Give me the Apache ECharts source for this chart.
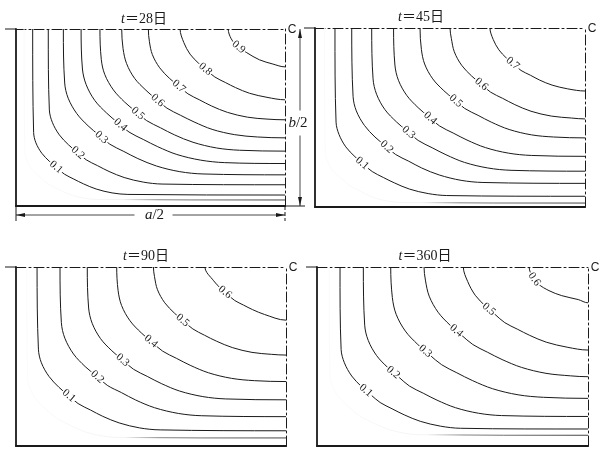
<!DOCTYPE html>
<html>
<head>
<meta charset="utf-8">
<script src="https://cdn.jsdelivr.net/npm/echarts@6/dist/echarts.min.js"></script>
<style>
  html, body { margin: 0; padding: 0; background: #fff; }
  #c { width: 600px; height: 452px; }
</style>
</head>
<body>
<div id="c"></div>
<script>
// Age of the section for each panel (days)
const days = [28, 45, 90, 360];

// Contour levels drawn in each panel
const levels28 = [0.1, 0.2, 0.3, 0.4, 0.5, 0.6, 0.7, 0.8, 0.9];
const levels45 = [0.1, 0.2, 0.3, 0.4, 0.5, 0.6, 0.7];
const levels90 = [0.1, 0.2, 0.3, 0.4, 0.5, 0.6];
const levels360 = [0.1, 0.2, 0.3, 0.4, 0.5, 0.6];

// Contour lines of the quarter section, x = distance from the side face / (a/2),
// y = distance from the bottom face / (b/2); each line runs from the upper
// centre line down to the right centre line.
const iso28 = [
  [[0.062,1],[0.0655,0.416],[0.074,0.357],[0.096,0.298],[0.125,0.251],[0.152,0.215],[0.18,0.18],[0.215,0.152],[0.251,0.125],[0.298,0.096],[0.357,0.074],[0.416,0.0655],[1,0.062]],
  [[0.12,1],[0.124,0.543],[0.135,0.473],[0.161,0.402],[0.195,0.346],[0.228,0.303],[0.261,0.261],[0.303,0.228],[0.346,0.195],[0.402,0.161],[0.473,0.135],[0.543,0.124],[1,0.12]],
  [[0.176,1],[0.181,0.695],[0.194,0.609],[0.226,0.522],[0.268,0.453],[0.308,0.401],[0.349,0.349],[0.401,0.308],[0.453,0.268],[0.522,0.226],[0.609,0.194],[0.695,0.181],[1,0.176]],
  [[0.242,1],[0.247,0.774],[0.261,0.685],[0.293,0.596],[0.337,0.525],[0.378,0.471],[0.42,0.418],[0.473,0.376],[0.527,0.335],[0.598,0.291],[0.687,0.259],[0.776,0.245],[1,0.24]],
  [[0.312,1],[0.317,0.829],[0.33,0.743],[0.362,0.656],[0.404,0.587],[0.444,0.535],[0.485,0.483],[0.537,0.442],[0.589,0.402],[0.658,0.36],[0.745,0.328],[0.831,0.315],[1,0.31]],
  [[0.393,1],[0.398,0.889],[0.411,0.805],[0.441,0.721],[0.483,0.654],[0.521,0.603],[0.561,0.553],[0.611,0.513],[0.662,0.475],[0.729,0.433],[0.813,0.403],[0.897,0.39],[1,0.385]],
  [[0.492,1],[0.496,0.928],[0.507,0.855],[0.534,0.781],[0.57,0.722],[0.604,0.678],[0.639,0.634],[0.683,0.599],[0.727,0.565],[0.786,0.529],[0.86,0.502],[0.933,0.491],[1,0.487]],
  [[0.61,1],[0.624,0.923],[0.647,0.858],[0.679,0.806],[0.708,0.768],[0.739,0.729],[0.778,0.698],[0.816,0.669],[0.868,0.637],[0.933,0.614],[1,0.6]],
  [[0.789,1],[0.8,0.945],[0.824,0.902],[0.858,0.866],[0.905,0.826],[0.955,0.802],[1,0.786]]
];
const iso45 = [
  [[0.074,1],[0.078,0.474],[0.089,0.405],[0.114,0.336],[0.148,0.281],[0.179,0.239],[0.212,0.198],[0.253,0.165],[0.295,0.134],[0.35,0.1],[0.419,0.075],[0.488,0.064],[1,0.06]],
  [[0.136,1],[0.141,0.618],[0.153,0.537],[0.183,0.456],[0.222,0.391],[0.26,0.343],[0.298,0.294],[0.347,0.256],[0.395,0.218],[0.46,0.179],[0.541,0.149],[0.622,0.137],[1,0.132]],
  [[0.21,1],[0.215,0.716],[0.228,0.63],[0.259,0.544],[0.302,0.475],[0.341,0.424],[0.382,0.372],[0.434,0.331],[0.485,0.292],[0.554,0.249],[0.64,0.218],[0.726,0.205],[1,0.2]],
  [[0.291,1],[0.296,0.793],[0.309,0.708],[0.34,0.623],[0.382,0.555],[0.421,0.504],[0.461,0.453],[0.512,0.413],[0.563,0.374],[0.631,0.332],[0.716,0.301],[0.801,0.288],[1,0.283]],
  [[0.389,1],[0.394,0.881],[0.406,0.799],[0.436,0.716],[0.477,0.65],[0.515,0.601],[0.554,0.551],[0.604,0.512],[0.653,0.474],[0.719,0.433],[0.802,0.403],[0.884,0.391],[1,0.386]],
  [[0.5,1],[0.505,0.942],[0.516,0.867],[0.543,0.792],[0.58,0.732],[0.615,0.687],[0.65,0.642],[0.695,0.607],[0.74,0.572],[0.8,0.535],[0.875,0.508],[0.95,0.497],[1,0.492]],
  [[0.648,1],[0.66,0.936],[0.681,0.878],[0.709,0.832],[0.736,0.798],[0.763,0.763],[0.798,0.736],[0.832,0.709],[0.878,0.681],[0.936,0.66],[1,0.648]]
];
const iso90 = [
  [[0.078,1],[0.083,0.541],[0.094,0.465],[0.122,0.389],[0.159,0.328],[0.194,0.283],[0.23,0.237],[0.276,0.201],[0.321,0.166],[0.382,0.129],[0.458,0.101],[0.534,0.09],[1,0.085]],
  [[0.163,1],[0.168,0.689],[0.181,0.602],[0.213,0.514],[0.256,0.444],[0.297,0.392],[0.338,0.339],[0.391,0.298],[0.443,0.257],[0.513,0.214],[0.601,0.182],[0.688,0.169],[1,0.164]],
  [[0.264,1],[0.269,0.771],[0.282,0.686],[0.313,0.6],[0.355,0.532],[0.395,0.48],[0.435,0.429],[0.486,0.389],[0.538,0.349],[0.606,0.307],[0.692,0.276],[0.777,0.263],[1,0.258]],
  [[0.373,1],[0.378,0.87],[0.391,0.785],[0.422,0.7],[0.464,0.632],[0.503,0.581],[0.543,0.53],[0.594,0.49],[0.645,0.451],[0.713,0.409],[0.798,0.378],[0.883,0.365],[1,0.36]],
  [[0.509,1],[0.513,0.946],[0.524,0.873],[0.551,0.8],[0.587,0.742],[0.62,0.698],[0.655,0.654],[0.698,0.619],[0.742,0.586],[0.801,0.55],[0.874,0.523],[0.947,0.512],[1,0.508]],
  [[0.7,1],[0.732,0.923],[0.759,0.879],[0.784,0.846],[0.81,0.813],[0.843,0.787],[0.876,0.762],[0.92,0.735],[1,0.703]]
];
const iso360 = [
  [[0.085,1],[0.089,0.539],[0.101,0.465],[0.128,0.391],[0.164,0.332],[0.198,0.287],[0.233,0.243],[0.277,0.208],[0.322,0.174],[0.381,0.138],[0.455,0.111],[0.529,0.099],[1,0.095]],
  [[0.171,1],[0.176,0.675],[0.189,0.59],[0.22,0.505],[0.262,0.437],[0.301,0.386],[0.341,0.335],[0.392,0.295],[0.443,0.256],[0.511,0.214],[0.596,0.183],[0.681,0.17],[1,0.165]],
  [[0.272,1],[0.278,0.83],[0.292,0.736],[0.326,0.642],[0.372,0.567],[0.415,0.51],[0.46,0.454],[0.516,0.409],[0.573,0.366],[0.648,0.32],[0.742,0.286],[0.836,0.272],[1,0.266]],
  [[0.395,1],[0.4,0.927],[0.414,0.837],[0.447,0.747],[0.491,0.675],[0.532,0.621],[0.575,0.567],[0.629,0.524],[0.683,0.483],[0.755,0.439],[0.845,0.406],[0.935,0.392],[1,0.387]],
  [[0.54,1],[0.556,0.919],[0.584,0.842],[0.622,0.781],[0.657,0.735],[0.693,0.689],[0.739,0.653],[0.785,0.618],[0.846,0.58],[0.923,0.552],[1,0.536]],
  [[0.783,1],[0.792,0.955],[0.817,0.905],[0.856,0.868],[0.903,0.84],[0.964,0.818],[1,0.8]]
];

// Unlabelled line lying closest to the faces (printed faintly near the side face)
const outer28 = [[0.03,1],[0.033,0.304],[0.04,0.259],[0.056,0.214],[0.078,0.178],[0.099,0.151],[0.12,0.124],[0.147,0.103],[0.174,0.082],[0.21,0.06],[0.255,0.044],[0.3,0.037],[1,0.034]];
const outer45 = [[0.035,1],[0.038,0.307],[0.045,0.26],[0.062,0.212],[0.086,0.174],[0.108,0.146],[0.13,0.117],[0.159,0.095],[0.187,0.073],[0.225,0.049],[0.273,0.032],[0.32,0.025],[1,0.022]];
const outer90 = [[0.04,1],[0.043,0.375],[0.052,0.32],[0.072,0.265],[0.099,0.221],[0.124,0.188],[0.15,0.155],[0.183,0.129],[0.216,0.104],[0.26,0.077],[0.315,0.057],[0.37,0.048],[1,0.045]];
const outer360 = [[0.045,1],[0.048,0.39],[0.057,0.335],[0.077,0.28],[0.104,0.236],[0.129,0.203],[0.155,0.17],[0.188,0.144],[0.221,0.119],[0.265,0.092],[0.32,0.072],[0.375,0.063],[1,0.06]];

// Page layout of the four quarter sections (pixels) and how far up the
// knee of each line its level label sits (section units)
const panels = [
  { left: 16,  top: 29,  width: 269, height: 177, titleX: 144, titleY: 19,  labelShift: 0.07 },
  { left: 315, top: 28,  width: 270, height: 179, titleX: 421, titleY: 17,  labelShift: 0.07 },
  { left: 16,  top: 267, width: 270, height: 179, titleX: 146, titleY: 256, labelShift: 0.085 },
  { left: 317, top: 267, width: 271, height: 179, titleX: 425, titleY: 256, labelShift: 0.13 }
];
const panelSets = [
  { levels: levels28, lines: iso28, outer: outer28 },
  { levels: levels45, lines: iso45, outer: outer45 },
  { levels: levels90, lines: iso90, outer: outer90 },
  { levels: levels360, lines: iso360, outer: outer360 }
];

const ink = '#1a1a1a';
const dashDot = [10, 3, 2, 3];
const serif = "'Liberation Serif', 'DejaVu Serif', 'Noto Sans CJK JP', serif";

// Cubic pieces through screen points; each line leaves the upper centre
// line straight down and meets the right centre line horizontally.
function bezierPieces(P) {
  const n = P.length, tan = [];
  for (let i = 0; i < n; i++) {
    if (i === 0) { tan.push([0, 1]); continue; }
    if (i === n - 1) { tan.push([1, 0]); continue; }
    const a = P[i - 1], b = P[i + 1];
    const dx = b[0] - a[0], dy = b[1] - a[1], l = Math.hypot(dx, dy) || 1;
    tan.push([dx / l, dy / l]);
  }
  const out = [];
  for (let i = 0; i < n - 1; i++) {
    const p0 = P[i], p1 = P[i + 1];
    const L = Math.hypot(p1[0] - p0[0], p1[1] - p0[1]) / 3;
    out.push([p0,
      [p0[0] + tan[i][0] * L, p0[1] + tan[i][1] * L],
      [p1[0] - tan[i + 1][0] * L, p1[1] - tan[i + 1][1] * L],
      p1]);
  }
  return out;
}
function bezAt(s, t) {
  const u = 1 - t;
  const a = u * u * u, b = 3 * u * u * t, c = 3 * u * t * t, d = t * t * t;
  return [a * s[0][0] + b * s[1][0] + c * s[2][0] + d * s[3][0],
          a * s[0][1] + b * s[1][1] + c * s[2][1] + d * s[3][1]];
}
function pathOf(segs) {
  let d = 'M' + segs[0][0][0] + ' ' + segs[0][0][1];
  segs.forEach(s => { d += ' C' + s[1].join(' ') + ' ' + s[2].join(' ') + ' ' + s[3].join(' '); });
  return d;
}

const grids = [], xAxes = [], yAxes = [], series = [];
panelSets.forEach((set, i) => {
  const g = panels[i];
  grids.push({ left: g.left, top: g.top, width: g.width, height: g.height });
  const base = {
    gridIndex: i, type: 'value', min: 0, max: 1,
    axisTick: { show: false }, axisLabel: { show: false }, splitLine: { show: false }
  };
  xAxes.push(Object.assign({}, base, { position: 'bottom',
    axisLine: { show: true, onZero: false, lineStyle: { color: ink, width: 2.2 } } }));
  xAxes.push(Object.assign({}, base, { position: 'top',
    axisLine: { show: true, onZero: false, lineStyle: { color: ink, width: 1, type: dashDot } } }));
  yAxes.push(Object.assign({}, base, { position: 'left',
    axisLine: { show: true, onZero: false, lineStyle: { color: ink, width: 1.8 } } }));
  yAxes.push(Object.assign({}, base, { position: 'right',
    axisLine: { show: true, onZero: false, lineStyle: { color: ink, width: 1, type: dashDot } } }));

  // faint line next to the faces, only clearly printed along the bottom
  series.push({
    type: 'custom', coordinateSystem: 'cartesian2d',
    xAxisIndex: 2 * i, yAxisIndex: 2 * i, silent: true, z: 2,
    data: [[set.outer[0][0], set.outer[0][1]]],
    renderItem: (params, api) => {
      const P = set.outer.map(p => api.coord(p));
      return { type: 'path', shape: { pathData: pathOf(bezierPieces(P)) },
        style: { fill: null, lineWidth: 0.9,
          stroke: new echarts.graphic.LinearGradient(0, 0, 1, 0, [
            { offset: 0, color: '#fafafa' }, { offset: 0.38, color: '#f2f2f2' },
            { offset: 0.52, color: '#777' }, { offset: 1, color: '#2a2a2a' }]) } };
    }
  });

  series.push({
    type: 'custom', coordinateSystem: 'cartesian2d',
    xAxisIndex: 2 * i, yAxisIndex: 2 * i, silent: true, z: 3,
    data: set.lines.map((pts, j) => [pts[0][0], pts[0][1], j]),
    renderItem: (params, api) => {
      const j = api.value(2);
      const P = set.lines[j].map(p => api.coord(p));
      const segs = bezierPieces(P);

      // label where the line crosses (y - x) = shift, in section units
      const o = api.coord([0, 0]), e = api.coord([1, 1]);
      const W = e[0] - o[0], H = o[1] - e[1];
      const f = q => (o[1] - q[1]) / H - (q[0] - o[0]) / W - g.labelShift;
      let lab = null;
      for (const s of segs) {
        let prev = bezAt(s, 0);
        for (let k = 1; k <= 40 && !lab; k++) {
          const cur = bezAt(s, k / 40);
          if (f(prev) >= 0 && f(cur) < 0) {
            const w = f(prev) / (f(prev) - f(cur));
            lab = { x: prev[0] + w * (cur[0] - prev[0]), y: prev[1] + w * (cur[1] - prev[1]),
                    ang: Math.atan2(cur[1] - prev[1], cur[0] - prev[0]) };
          }
          prev = cur;
        }
        if (lab) break;
      }
      const children = [{ type: 'path', shape: { pathData: pathOf(segs) },
        style: { stroke: ink, lineWidth: 1, fill: null } }];
      if (lab) {
        children.push({ type: 'text', x: lab.x, y: lab.y, rotation: -lab.ang, z2: 10,
          style: { text: set.levels[j].toFixed(1), font: '11px ' + serif, fill: ink,
                   align: 'center', verticalAlign: 'middle', backgroundColor: '#fff', padding: [0, 1] } });
      }
      return { type: 'group', children };
    }
  });
});

// Titles, centre marks and dimension lines
const graphic = [];
function line(x1, y1, x2, y2, w, dash) {
  graphic.push({ type: 'line', silent: true, shape: { x1, y1, x2, y2 },
    style: { stroke: ink, lineWidth: w || 1, lineDash: dash || null } });
}
function arrow(x, y, dx, dy) {
  const L = 9, h = 2, px = -dy, py = dx;
  graphic.push({ type: 'polygon', silent: true,
    shape: { points: [[x, y], [x - dx * L + px * h, y - dy * L + py * h], [x - dx * L - px * h, y - dy * L - py * h]] },
    style: { fill: ink } });
}
function text(x, y, str, extra) {
  graphic.push({ type: 'text', silent: true, x, y,
    style: Object.assign({ text: str, align: 'center', verticalAlign: 'middle', fill: ink,
      font: '13px ' + serif }, extra || {}) });
}

const titleRich = {
  i: { fontFamily: serif, fontStyle: 'italic', fontSize: 14, fill: ink },
  n: { fontFamily: serif, fontSize: 14, fill: ink }
};
panels.forEach((g, i) => {
  text(g.titleX, g.titleY, '{i|t}{n|＝' + days[i] + '日}', { rich: titleRich });
  text(g.left + g.width + 7, g.top + 1, 'C', { font: '12px "Liberation Sans", sans-serif' });
  line(g.left - 11, g.top, g.left, g.top, 1);
});

// a/2 under the first section
{
  const g = panels[0];
  const yb = g.top + g.height, yd = yb + 9;
  line(g.left, yb, g.left, yb + 15, 1);
  line(g.left + g.width, yb, g.left + g.width, yb + 15, 1, [4, 2]);
  const mid = g.left + g.width / 2 + 4;
  line(g.left, yd, mid - 20, yd, 0.8);
  line(mid + 18, yd, g.left + g.width, yd, 0.8);
  arrow(g.left, yd, -1, 0);
  arrow(g.left + g.width, yd, 1, 0);
  text(mid, yd, '{i|a}{n|/2}', { rich: {
    i: { fontFamily: serif, fontStyle: 'italic', fontSize: 15, fill: ink },
    n: { fontFamily: serif, fontSize: 15, fill: ink } } });
}
// b/2 beside the first section
{
  const g = panels[0];
  const xr = g.left + g.width, xd = xr + 15;
  line(xr, g.top + g.height, xr + 20, g.top + g.height, 1);
  const mid = g.top + g.height / 2 + 6;
  line(xd, g.top, xd, mid - 13, 0.8);
  line(xd, mid + 12, xd, g.top + g.height, 0.8);
  arrow(xd, g.top, 0, -1);
  arrow(xd, g.top + g.height, 0, 1);
  text(xd - 2, mid, '{i|b}{n|/2}', { rich: {
    i: { fontFamily: serif, fontStyle: 'italic', fontSize: 15, fill: ink },
    n: { fontFamily: serif, fontSize: 15, fill: ink } } });
}

const chart = echarts.init(document.getElementById('c'));
chart.setOption({
  animation: false,
  backgroundColor: '#fff',
  grid: grids,
  xAxis: xAxes,
  yAxis: yAxes,
  series: series,
  graphic: graphic
});
</script>
</body>
</html>
